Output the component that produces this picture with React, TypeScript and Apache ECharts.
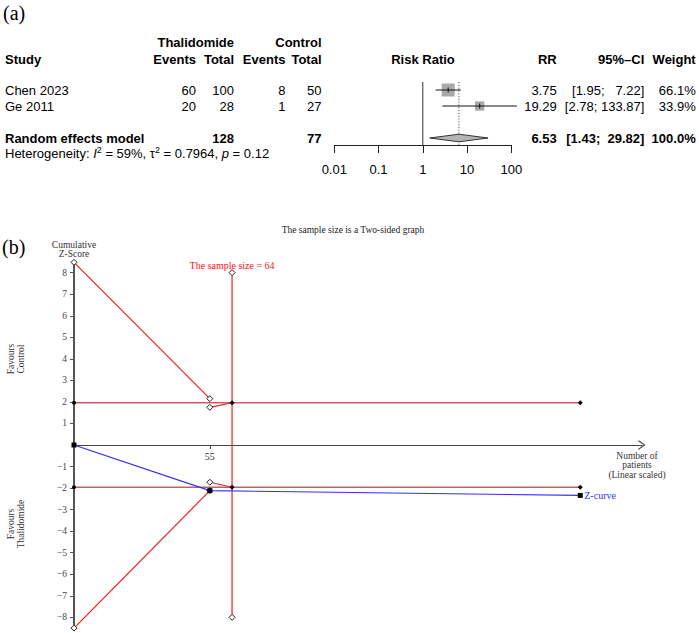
import React, { useEffect, useRef } from "react";
import * as echarts from "echarts";

// ---------- (a) forest plot data ----------
const studies = ["Chen 2023", "Ge 2011"];
const thalEvents = [60, 20];
const thalTotal = [100, 28];
const ctrlEvents = [8, 1];
const ctrlTotal = [50, 27];
const riskRatio = [3.75, 19.29];
const ciLower = [1.95, 2.78];
const ciUpper = [7.22, 133.87];
const weightPct = [66.1, 33.9];
const pooledLabel = "Random effects model";
const pooledRR = 6.53;
const pooledLower = 1.43;
const pooledUpper = 29.82;
const pooledWeight = 100.0;
const pooledThalTotal = 128;
const pooledCtrlTotal = 77;
const forestTickLabels = ["0.01", "0.1", "1", "10", "100"];

// ---------- (b) trial sequential analysis data ----------
const zCurve = [[0, 0], [55, -2.12], [205, -2.34]];
const upperBoundary = [[0, 8.48], [55, 2.15]];
const upperInner = [[55, 1.75], [64, 1.96]];
const lowerBoundary = [[0, -8.5], [55, -2.12]];
const lowerInner = [[55, -1.73], [64, -1.96]];
const conventionalZ = 1.96;
const totalPatients = 205;
const requiredSize = 64;
const requiredSpan = [8, -8];
const yTickValues = [-8, -7, -6, -5, -4, -3, -2, -1, 1, 2, 3, 4, 5, 6, 7, 8];
const xTickValues = [55];

const SANS = "'Liberation Sans', Arial, Helvetica, sans-serif";
const SERIF = "'Liberation Serif', 'Times New Roman', serif";
const RED = "#ee2020";
const BLUE = "#2f2fff";

// forest layout
const F_TOP = 82;
const ROW_H = 16;
const F_HEIGHT = 63;
const rowY = (r: number) => F_TOP + (r - 0.5) * ROW_H;

// TSA layout
const T_TOP = 261.9;
const T_HEIGHT = 366.2;

const nb = (s: string) => s.replace(/ /g, "\u00a0");
const fmtCI = (lo: number, hi: number) =>
  nb(`[${lo.toFixed(2)}; ${hi.toFixed(2).padStart(6, " ")}]`);

function tableGraphics(): any[] {
  const els: any[] = [];
  const txt = (text: string, x: number, y: number, align: string, bold = false, extra: any = {}) => {
    els.push({
      type: "text",
      x,
      y,
      style: {
        text,
        align,
        verticalAlign: "middle",
        fontFamily: SANS,
        fontSize: 13,
        fontWeight: bold ? "bold" : "normal",
        fill: "#000",
        ...extra,
      },
    });
  };
  const col = { study: 5, te: 196, tt: 234, ce: 285.5, ct: 321.5, rr: 556.7, ci: 644.3, w: 695.7 };
  // headers
  txt("Thalidomide", col.tt, 42, "right", true);
  txt("Control", col.ct, 42, "right", true);
  txt("Study", col.study, 59, "left", true);
  txt("Events", col.te, 59, "right", true);
  txt("Total", col.tt, 59, "right", true);
  txt("Events", col.ce, 59, "right", true);
  txt("Total", col.ct, 59, "right", true);
  txt("Risk Ratio", 423, 59, "center", true);
  txt("RR", col.rr, 59, "right", true);
  txt("95%\u2013CI", col.ci, 59, "right", true);
  txt("Weight", col.w, 59, "right", true);
  studies.forEach((s, i) => {
    const y = rowY(i + 1);
    txt(s, col.study, y, "left");
    txt(String(thalEvents[i]), col.te, y, "right");
    txt(String(thalTotal[i]), col.tt, y, "right");
    txt(String(ctrlEvents[i]), col.ce, y, "right");
    txt(String(ctrlTotal[i]), col.ct, y, "right");
    txt(riskRatio[i].toFixed(2), col.rr, y, "right");
    txt(fmtCI(ciLower[i], ciUpper[i]), col.ci, y, "right");
    txt(weightPct[i].toFixed(1) + "%", col.w, y, "right");
  });
  const py = rowY(studies.length + 2);
  txt(pooledLabel, col.study, py, "left", true);
  txt(String(pooledThalTotal), col.tt, py, "right", true);
  txt(String(pooledCtrlTotal), col.ct, py, "right", true);
  txt(pooledRR.toFixed(2), col.rr, py, "right", true);
  txt(fmtCI(pooledLower, pooledUpper), col.ci, py, "right", true);
  txt(pooledWeight.toFixed(1) + "%", col.w, py, "right", true);
  els.push({
    type: "text",
    x: 5,
    y: 153,
    style: {
      text: "Heterogeneity: {i|I}{s|2} = 59%, \u03c4{s|2} = 0.7964, {i|p} = 0.12",
      align: "left",
      verticalAlign: "middle",
      fontFamily: SANS,
      fontSize: 13,
      fill: "#000",
      rich: {
        i: { fontFamily: SANS, fontSize: 13, fontStyle: "italic", lineHeight: 15 },
        s: { fontFamily: SANS, fontSize: 9, verticalAlign: "top", lineHeight: 9 },
      },
    },
  });
  return els;
}

function otherGraphics(): any[] {
  const serifText = (text: string, x: number, y: number, size: number, extra: any = {}, elExtra: any = {}) => ({
    type: "text",
    x,
    y,
    ...elExtra,
    style: {
      text,
      align: "center",
      verticalAlign: "middle",
      fontFamily: SERIF,
      fontSize: size,
      fill: "#222",
      ...extra,
    },
  });
  return [
    serifText("(a)", 3, 13, 20, { align: "left", fill: "#000" }),
    serifText("(b)", 2, 247, 20, { align: "left", fill: "#000" }),
    serifText("The sample size is a Two-sided graph", 353, 230, 9.5),
    serifText("Number of\npatients\n(Linear scaled)", 637, 465, 9.5, { lineHeight: 9.5, fill: "#333" }),
    serifText("Favours\nControl", 16, 359, 9.5, { lineHeight: 9.5, fill: "#333" }, { rotation: Math.PI / 2 }),
    serifText("Favours\nThalidomide", 16, 524, 9.5, { lineHeight: 9.5, fill: "#333" }, { rotation: Math.PI / 2 }),
  ];
}

const hollowDiamond = { color: "#fff", borderColor: "#222", borderWidth: 1 };
const blackDot = { color: "#000", borderColor: "#000", borderWidth: 0 };

function buildOption(): any {
  const maxW = Math.max(...weightPct);
  const tsaAxis = { xAxisIndex: 1, yAxisIndex: 1 };
  const redLine = (name: string, pts: number[][], filledEnd: boolean) => ({
    name,
    type: "line",
    ...tsaAxis,
    z: 3,
    symbol: "diamond",
    symbolSize: 6,
    showAllSymbol: true,
    lineStyle: { color: RED, width: 1.2 },
    itemStyle: hollowDiamond,
    data: pts.map((p, i) =>
      filledEnd && i === pts.length - 1
        ? { value: p, symbolSize: 5, itemStyle: blackDot }
        : { value: p }
    ),
  });
  return {
    animation: false,
    backgroundColor: "#fff",
    grid: [
      { left: 334.3, top: F_TOP, width: 177, height: F_HEIGHT },
      { left: 74, top: T_TOP, width: 568, height: T_HEIGHT },
    ],
    xAxis: [
      {
        gridIndex: 0,
        type: "log",
        logBase: 10,
        min: 0.01,
        max: 100,
        axisLine: { show: true, onZero: false, lineStyle: { color: "#222", width: 1 } },
        axisTick: { show: true, length: 8, lineStyle: { color: "#222", width: 1 } },
        minorTick: { show: false },
        splitLine: { show: false },
        axisLabel: {
          margin: 18,
          fontFamily: SANS,
          fontSize: 13,
          color: "#000",
          formatter: (v: number) => forestTickLabels[Math.round(Math.log10(v)) + 2] ?? "",
        },
      },
      {
        gridIndex: 1,
        type: "value",
        min: 0,
        max: 230,
        position: "bottom",
        // y range is symmetric about 0, so the axis sits at z = 0 (mid-grid)
        offset: -T_HEIGHT / 2,
        axisLine: {
          show: true,
          onZero: false,
          symbol: ["none", "path://M0,7 L5,0 L10,7 L8.6,7 L5,1.8 L1.4,7 Z"],
          symbolSize: [11, 7],
          lineStyle: { color: "#444", width: 1.2 },
        },
        axisTick: { show: true, customValues: xTickValues, length: 4, lineStyle: { color: "#444" } },
        axisLabel: {
          show: true,
          customValues: xTickValues,
          margin: 6,
          fontFamily: SERIF,
          fontSize: 10,
          color: "#333",
        },
        splitLine: { show: false },
      },
    ],
    yAxis: [
      { gridIndex: 0, type: "value", inverse: true, min: 0.5, max: 0.5 + F_HEIGHT / ROW_H, show: false },
      {
        gridIndex: 1,
        type: "value",
        min: -8.5,
        max: 8.5,
        name: "Cumulative\nZ-Score",
        nameLocation: "end",
        nameGap: 3,
        nameTextStyle: { fontFamily: SERIF, fontSize: 9.5, color: "#333", lineHeight: 9, align: "center" },
        axisLine: { show: true, onZero: false, lineStyle: { color: "#555", width: 2 } },
        axisTick: { show: true, customValues: yTickValues, length: 4, lineStyle: { color: "#555" } },
        axisLabel: {
          show: true,
          customValues: yTickValues,
          margin: 7,
          fontFamily: SERIF,
          fontSize: 9.5,
          color: "#444",
          formatter: (v: number) => (v < 0 ? "\u2212" + Math.abs(v) : String(v)),
        },
        splitLine: { show: false },
      },
    ],
    graphic: [...tableGraphics(), ...otherGraphics()],
    series: [
      // forest: reference lines (no effect, pooled estimate)
      {
        name: "refLines",
        type: "custom",
        xAxisIndex: 0,
        yAxisIndex: 0,
        encode: { x: 0, y: 1 },
        data: [[1, 1], [pooledRR, 1]],
        renderItem: (params: any, api: any) => {
          const x = api.coord([api.value(0), 1])[0];
          const cs = params.coordSys;
          return {
            type: "line",
            shape: { x1: x, y1: cs.y, x2: x, y2: cs.y + cs.height },
            style:
              params.dataIndex === 0
                ? { stroke: "#333", lineWidth: 1 }
                : { stroke: "#555", lineWidth: 1, lineDash: [1.2, 1.6] },
          };
        },
      },
      // forest: study estimates
      {
        name: "studies",
        type: "custom",
        xAxisIndex: 0,
        yAxisIndex: 0,
        clip: false,
        encode: { x: [0, 1, 2], y: 4 },
        data: studies.map((_, i) => [riskRatio[i], ciLower[i], ciUpper[i], weightPct[i], i + 1]),
        renderItem: (params: any, api: any) => {
          const row = api.value(4);
          const c = api.coord([api.value(0), row]);
          const l = api.coord([api.value(1), row]);
          const h = api.coord([api.value(2), row]);
          const s = 13 * Math.sqrt(api.value(3) / maxW);
          return {
            type: "group",
            children: [
              { type: "rect", shape: { x: c[0] - s / 2, y: c[1] - s / 2, width: s, height: s }, style: { fill: "#a9a9a9" } },
              { type: "line", shape: { x1: l[0], y1: c[1], x2: h[0], y2: c[1] }, style: { stroke: "#111", lineWidth: 1 } },
              { type: "line", shape: { x1: c[0], y1: c[1] - 2.5, x2: c[0], y2: c[1] + 2.5 }, style: { stroke: "#111", lineWidth: 1 } },
            ],
          };
        },
      },
      // forest: pooled diamond
      {
        name: "pooled",
        type: "custom",
        xAxisIndex: 0,
        yAxisIndex: 0,
        clip: false,
        encode: { x: [0, 1, 2], y: 3 },
        data: [[pooledRR, pooledLower, pooledUpper, studies.length + 2]],
        renderItem: (params: any, api: any) => {
          const row = api.value(3);
          const c = api.coord([api.value(0), row]);
          const l = api.coord([api.value(1), row]);
          const h = api.coord([api.value(2), row]);
          const hh = 3.8;
          return {
            type: "polygon",
            shape: { points: [[l[0], c[1]], [c[0], c[1] - hh], [h[0], c[1]], [c[0], c[1] + hh]] },
            style: { fill: "#b5b5b5", stroke: "#333", lineWidth: 1 },
          };
        },
      },
      // TSA: conventional boundaries
      ...[conventionalZ, -conventionalZ].map((z, k) => ({
        name: k === 0 ? "conv upper" : "conv lower",
        type: "line",
        ...tsaAxis,
        z: 2,
        showAllSymbol: true,
        lineStyle: { color: "#c46060", width: 1.5 },
        data: [
          { value: [0, z], symbol: "circle", symbolSize: 4, itemStyle: blackDot },
          { value: [totalPatients, z], symbol: "diamond", symbolSize: 5, itemStyle: blackDot },
        ],
      })),
      redLine("upper boundary", upperBoundary, false),
      redLine("upper inner", upperInner, true),
      redLine("lower boundary", lowerBoundary, false),
      redLine("lower inner", lowerInner, true),
      // required information size
      {
        name: "sample size",
        type: "line",
        ...tsaAxis,
        z: 3,
        symbol: "diamond",
        symbolSize: 6,
        showAllSymbol: true,
        lineStyle: { color: RED, width: 1.2 },
        itemStyle: hollowDiamond,
        data: [
          {
            value: [requiredSize, requiredSpan[0]],
            label: {
              show: true,
              position: "top",
              distance: -1,
              formatter: `The sample size = ${requiredSize}`,
              color: RED,
              fontFamily: SERIF,
              fontSize: 10,
            },
          },
          { value: [requiredSize, requiredSpan[1]] },
        ],
      },
      // Z-curve
      {
        name: "Z-curve",
        type: "line",
        ...tsaAxis,
        z: 4,
        symbol: "rect",
        symbolSize: 5,
        showAllSymbol: true,
        lineStyle: { color: BLUE, width: 1.2 },
        itemStyle: { color: "#000" },
        endLabel: {
          show: true,
          formatter: "Z-curve",
          color: BLUE,
          fontFamily: SERIF,
          fontSize: 10,
          distance: 4,
        },
        data: zCurve,
      },
    ],
  };
}

export default function App() {
  const ref = useRef<HTMLDivElement>(null);
  useEffect(() => {
    if (!ref.current) return;
    const chart = echarts.init(ref.current, undefined, { renderer: "svg" });
    chart.setOption(buildOption());
    return () => chart.dispose();
  }, []);
  return (
    <div
      ref={ref}
      style={{ position: "absolute", left: 0, top: 0, width: 699, height: 633, background: "#fff" }}
    />
  );
}
